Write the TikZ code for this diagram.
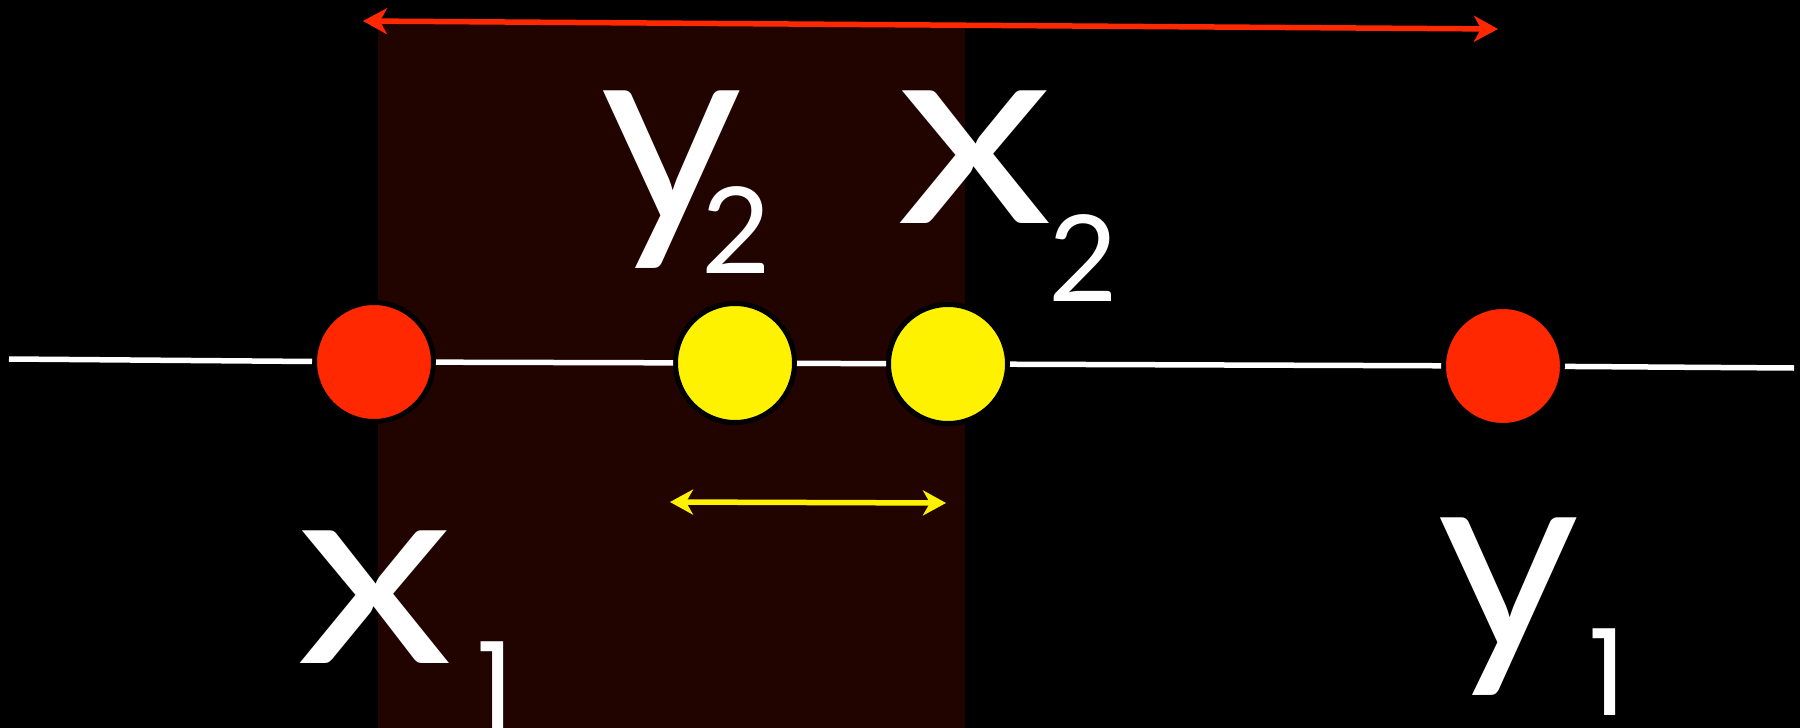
\documentclass[tikz,border=0pt]{standalone}
\usepackage{fontspec}
\setmainfont{Lato}
\newfontfamily\digitfont{Poppins}
\usetikzlibrary{arrows.meta}
\definecolor{bgred}{RGB}{33,4,0}
\definecolor{dotred}{RGB}{255,40,0}
\definecolor{dotyellow}{RGB}{255,242,0}
\begin{document}
\begin{tikzpicture}[x=0.5pt,y=-0.5pt,
  dot/.style={circle, minimum size=59.5pt, inner sep=0pt, draw=black, line width=2.5pt},
  wire/.style={draw=white, line width=2.75pt},
  redarrow/.style={draw=dotred, line width=2.75pt, {Stealth[length=12pt,width=13pt,inset=3.5pt]}-{Stealth[length=12pt,width=13pt,inset=3.5pt]}},
  yellowarrow/.style={draw=dotyellow, line width=2.75pt, {Stealth[length=11.5pt,width=12.5pt,inset=3.5pt]}-{Stealth[length=11.5pt,width=12.5pt,inset=3.5pt]}},
  bigletter/.style={text=white, inner sep=0pt, anchor=base, font=\fontsize{131}{131}\selectfont},
  subscr/.style={text=white, inner sep=0pt, anchor=base, font=\fontsize{60}{60}\selectfont}]
\fill[black] (0,0) rectangle (1800,728);
\useasboundingbox (0,0) rectangle (1800,728);
\fill[bgred] (378,24) rectangle (965,728);

% dots
\node[dot, fill=dotred] (r1) at (374,362) {};
\node[dot, fill=dotyellow] (y1) at (735,363) {};
\node[dot, fill=dotyellow] (y2) at (948,364) {};
\node[dot, fill=dotred] (r2) at (1503,366) {};
\coordinate (wl) at (9,359);
\coordinate (wr) at (1794,368);

% wire
\draw[wire] (wl) -- (r1);
\draw[wire] (r1) -- (y1);
\draw[wire] (y1) -- (y2);
\draw[wire] (y2) -- (r2);
\draw[wire] (r2) -- (wr);

% arrows
\coordinate (ra) at (363,21);
\coordinate (rb) at (1498,29);
\draw[redarrow] (ra) -- (rb);
\coordinate (ya) at (670,502);
\coordinate (yb) at (946,503);
\draw[yellowarrow] (ya) -- (yb);

% labels
\node[bigletter] (ly2) at (671.5,223) {\scalebox{1.05}[1]{y}};
\node[subscr] (ly2s) at (736,273) {2};
\node[bigletter] (lx2) at (974.5,223) {\scalebox{1.2}[1]{x}};
\node[subscr] (lx2s) at (1083.5,301) {2};
\node[bigletter] (lx1) at (375,663) {\scalebox{1.2}[1]{x}};
\node[subscr] (lx1s) at (495.5,728) {\digitfont 1};
\node[bigletter] (ly1) at (1508.5,650) {\scalebox{1.05}[1]{y}};
\node[subscr] (ly1s) at (1607.5,715) {\digitfont 1};
\end{tikzpicture}
\end{document}
